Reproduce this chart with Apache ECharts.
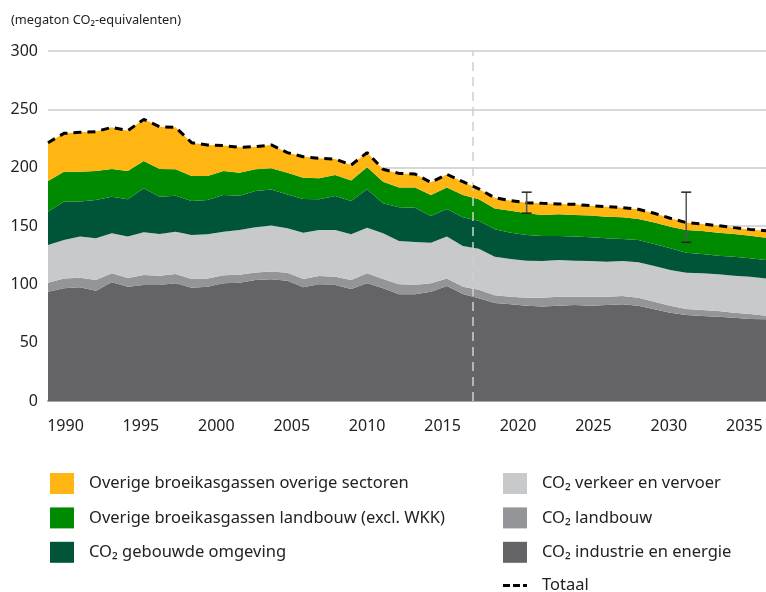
<!DOCTYPE html>
<html>
<head>
<meta charset="utf-8">
<script src="https://cdn.jsdelivr.net/npm/echarts@6/dist/echarts.min.js"></script>
<style>
  html, body { margin: 0; padding: 0; background: #fff; }
  #main { width: 766px; height: 592px; }
</style>
</head>
<body>
<div id="main"></div>
<script>
// jaren 1990 t/m 2035
var years = [];
for (var y = 1990; y <= 2035; y++) years.push(String(y));

var industrie = [93.7, 96.6, 97.4, 94.6, 101.7, 98.0, 99.4, 99.4, 100.9, 97.1,
  98.0, 100.9, 101.4, 103.7, 104.4, 103.1, 97.4, 100.0, 99.4, 96.0,
  100.9, 96.6, 91.4, 91.4, 93.7, 98.6, 91.7, 88.0, 84.0, 82.9,
  81.7, 80.9, 81.7, 82.3, 81.7, 82.3, 82.9, 81.7, 78.6, 75.7,
  73.7, 72.9, 72.3, 71.4, 70.3, 70.0]
var landbouw = [7.6, 8.5, 8.3, 9.1, 7.7, 7.4, 8.6, 7.9, 7.9, 7.5,
  6.9, 6.8, 6.9, 6.5, 6.5, 6.9, 7.2, 7.1, 7.2, 7.7,
  8.5, 8.0, 8.6, 8.0, 7.2, 6.5, 6.3, 7.4, 6.6, 6.5,
  6.9, 7.7, 7.7, 7.1, 7.7, 7.1, 7.1, 6.9, 6.5, 6.0,
  5.2, 5.1, 4.8, 4.3, 4.3, 3.1]
var verkeer = [32.4, 32.9, 35.2, 35.7, 34.3, 35.5, 36.6, 35.8, 36.3, 37.7,
  38.0, 37.4, 38.3, 38.7, 39.6, 38.0, 39.7, 39.5, 40.0, 39.2,
  39.2, 39.1, 37.1, 36.9, 34.8, 35.8, 34.9, 35.1, 33.1, 32.3,
  31.7, 31.4, 31.5, 30.9, 30.6, 30.0, 30.0, 30.3, 30.6, 30.6,
  31.1, 31.4, 31.5, 31.7, 32.0, 32.0]
var gebouwd = [28.6, 32.9, 30.0, 32.9, 31.4, 32.0, 37.7, 32.0, 30.9, 29.1,
  29.4, 31.5, 29.4, 31.1, 30.7, 29.1, 28.8, 26.3, 29.1, 28.5,
  32.8, 25.7, 28.9, 29.4, 22.9, 23.7, 24.5, 23.9, 23.6, 22.6,
  22.0, 21.4, 20.5, 20.6, 20.3, 20.0, 18.9, 19.1, 18.9, 18.6,
  17.1, 16.6, 16.0, 16.3, 15.7, 15.8]
var overigLandbouw = [26.3, 25.7, 25.7, 24.8, 23.8, 24.2, 23.4, 23.8, 22.6, 21.5,
  20.6, 20.5, 19.7, 18.6, 18.2, 18.6, 18.3, 18.0, 18.0, 17.5,
  18.9, 18.6, 17.1, 17.4, 18.0, 18.5, 19.2, 18.6, 17.7, 18.8,
  18.6, 18.0, 18.6, 18.5, 18.6, 18.6, 18.5, 18.0, 18.3, 18.5,
  19.5, 19.7, 19.7, 19.4, 19.4, 19.1]
var overigSectoren = [32.8, 32.8, 33.7, 33.8, 35.7, 34.6, 35.7, 36.2, 36.0, 28.5,
  26.5, 21.8, 21.7, 19.4, 20.1, 17.2, 18.0, 17.1, 13.7, 13.4,
  12.6, 10.6, 12.0, 11.5, 10.8, 11.2, 11.4, 8.8, 9.2, 8.6,
  9.1, 10.0, 8.9, 9.2, 8.5, 8.6, 8.3, 8.3, 8.0, 7.2,
  6.3, 6.0, 6.0, 5.5, 5.4, 6.0]
var totaal = [221.4, 229.4, 230.3, 230.9, 234.6, 231.7, 241.4, 235.1, 234.6, 221.4,
  219.4, 218.9, 217.4, 218.0, 219.5, 212.9, 209.4, 208.0, 207.4, 202.3,
  212.9, 198.6, 195.1, 194.6, 187.4, 194.3, 188.0, 181.8, 174.2, 171.7,
  170.0, 169.4, 168.9, 168.6, 167.4, 166.6, 165.7, 164.3, 160.9, 156.6,
  152.9, 151.7, 150.3, 148.6, 147.1, 146.0]

// bandbreedte (onzekerheid)
var rangeYears = ['2020', '2030']
var rangeLow = [161, 136]
var rangeHigh = [179, 179]

var xLabels = [1990, 1995, 2000, 2005, 2010, 2015, 2020, 2025, 2030, 2035]
var yTicks = { min: 0, max: 300, step: 50 }
var splitYear = 2017

var names = {
  ovs: 'Overige broeikasgassen overige sectoren',
  olb: 'Overige broeikasgassen landbouw (excl. WKK)',
  geb: 'CO₂ gebouwde omgeving',
  verk: 'CO₂ verkeer en vervoer',
  land: 'CO₂ landbouw',
  ind: 'CO₂ industrie en energie',
  tot: 'Totaal'
}

function area(name, data, color) {
  return {
    name: name,
    type: 'line',
    stack: 'ghg',
    xAxisIndex: 0,
    data: data,
    symbol: 'none',
    lineStyle: { width: 0 },
    itemStyle: { color: color },
    areaStyle: { color: color, opacity: 1 },
    emphasis: { disabled: true }
  }
}

var fontFam = 'Noto Sans'
var legendText = { fontSize: 16.5, color: '#222', padding: [0, 0, 0, 10] }
var dashIcon = 'path://M0,0h7v3h-7z M10,0h7v3h-7z M20,0h4v3h-4z'

function legendBlock(left, top, items) {
  return {
    orient: 'vertical',
    left: left,
    top: top,
    icon: 'rect',
    itemWidth: 24,
    itemHeight: 21,
    itemGap: 13.4,
    textStyle: legendText,
    data: items
  }
}

var option = {
  animation: false,
  textStyle: { fontFamily: fontFam },
  title: {
    text: '(megaton CO₂-equivalenten)',
    left: 6,
    top: 9,
    textStyle: { fontSize: 12.8, fontWeight: 'normal', color: '#222', fontFamily: fontFam }
  },
  grid: { left: 48, top: 51, width: 720, height: 350 },
  legend: [
    legendBlock(45, 468, [names.ovs, names.olb, names.geb]),
    legendBlock(498, 468, [names.verk, names.land, names.ind]),
    legendBlock(498, 572, [{ name: names.tot, icon: dashIcon }])
  ],
  xAxis: [
    {
      type: 'category',
      data: years,
      boundaryGap: false,
      show: false
    },
    {
      // labels staan iets anders verdeeld dan de data
      type: 'value',
      min: 1988.84,
      max: 2036.44,
      position: 'bottom',
      axisLine: { show: true, lineStyle: { color: '#a8a8a8', width: 2 } },
      axisTick: { show: false },
      splitLine: { show: false },
      axisLabel: {
        customValues: xLabels,
        formatter: function (v) { return String(v) },
        fontSize: 16,
        color: '#222',
        margin: 17
      }
    }
  ],
  yAxis: {
    type: 'value',
    min: yTicks.min,
    max: yTicks.max,
    interval: yTicks.step,
    axisLine: { show: false },
    axisTick: { show: false },
    axisLabel: { fontSize: 16, color: '#222', margin: 10 },
    splitLine: { lineStyle: { color: '#d8d8d8', width: 2 } }
  },
  series: [
    area(names.ind, industrie, '#646466'),
    area(names.land, landbouw, '#949598'),
    area(names.verk, verkeer, '#c8c9cb'),
    area(names.geb, gebouwd, '#005538'),
    area(names.olb, overigLandbouw, '#008a00'),
    area(names.ovs, overigSectoren, '#ffb612'),
    {
      name: names.tot,
      type: 'line',
      xAxisIndex: 0,
      data: totaal,
      symbol: 'none',
      z: 5,
      itemStyle: { color: '#000' },
      lineStyle: { color: '#000', width: 3, type: [8, 6] }
    },
    {
      type: 'line',
      xAxisIndex: 1,
      data: [],
      silent: true,
      markLine: {
        symbol: 'none',
        silent: true,
        label: { show: false },
        lineStyle: { color: '#cfcfcf', width: 1.5, type: [9, 6] },
        data: [{ xAxis: splitYear }]
      },
      z: 6
    },
    {
      type: 'custom',
      xAxisIndex: 0,
      z: 7,
      data: rangeYears.map(function (yr, i) { return [yr, rangeLow[i], rangeHigh[i]] }),
      renderItem: function (params, api) {
        var lo = api.coord([api.value(0), api.value(1)])
        var hi = api.coord([api.value(0), api.value(2)])
        var cap = 5
        return {
          type: 'group',
          children: [
            { type: 'line', shape: { x1: hi[0], y1: hi[1], x2: lo[0], y2: lo[1] }, style: { stroke: '#555', lineWidth: 1.5 } },
            { type: 'line', shape: { x1: hi[0] - cap, y1: hi[1], x2: hi[0] + cap, y2: hi[1] }, style: { stroke: '#222', lineWidth: 1.5 } },
            { type: 'line', shape: { x1: lo[0] - cap, y1: lo[1], x2: lo[0] + cap, y2: lo[1] }, style: { stroke: '#222', lineWidth: 1.5 } }
          ]
        }
      }
    }
  ]
}

var myChart = echarts.init(document.getElementById('main'))
myChart.setOption(option)
</script>
</body>
</html>
